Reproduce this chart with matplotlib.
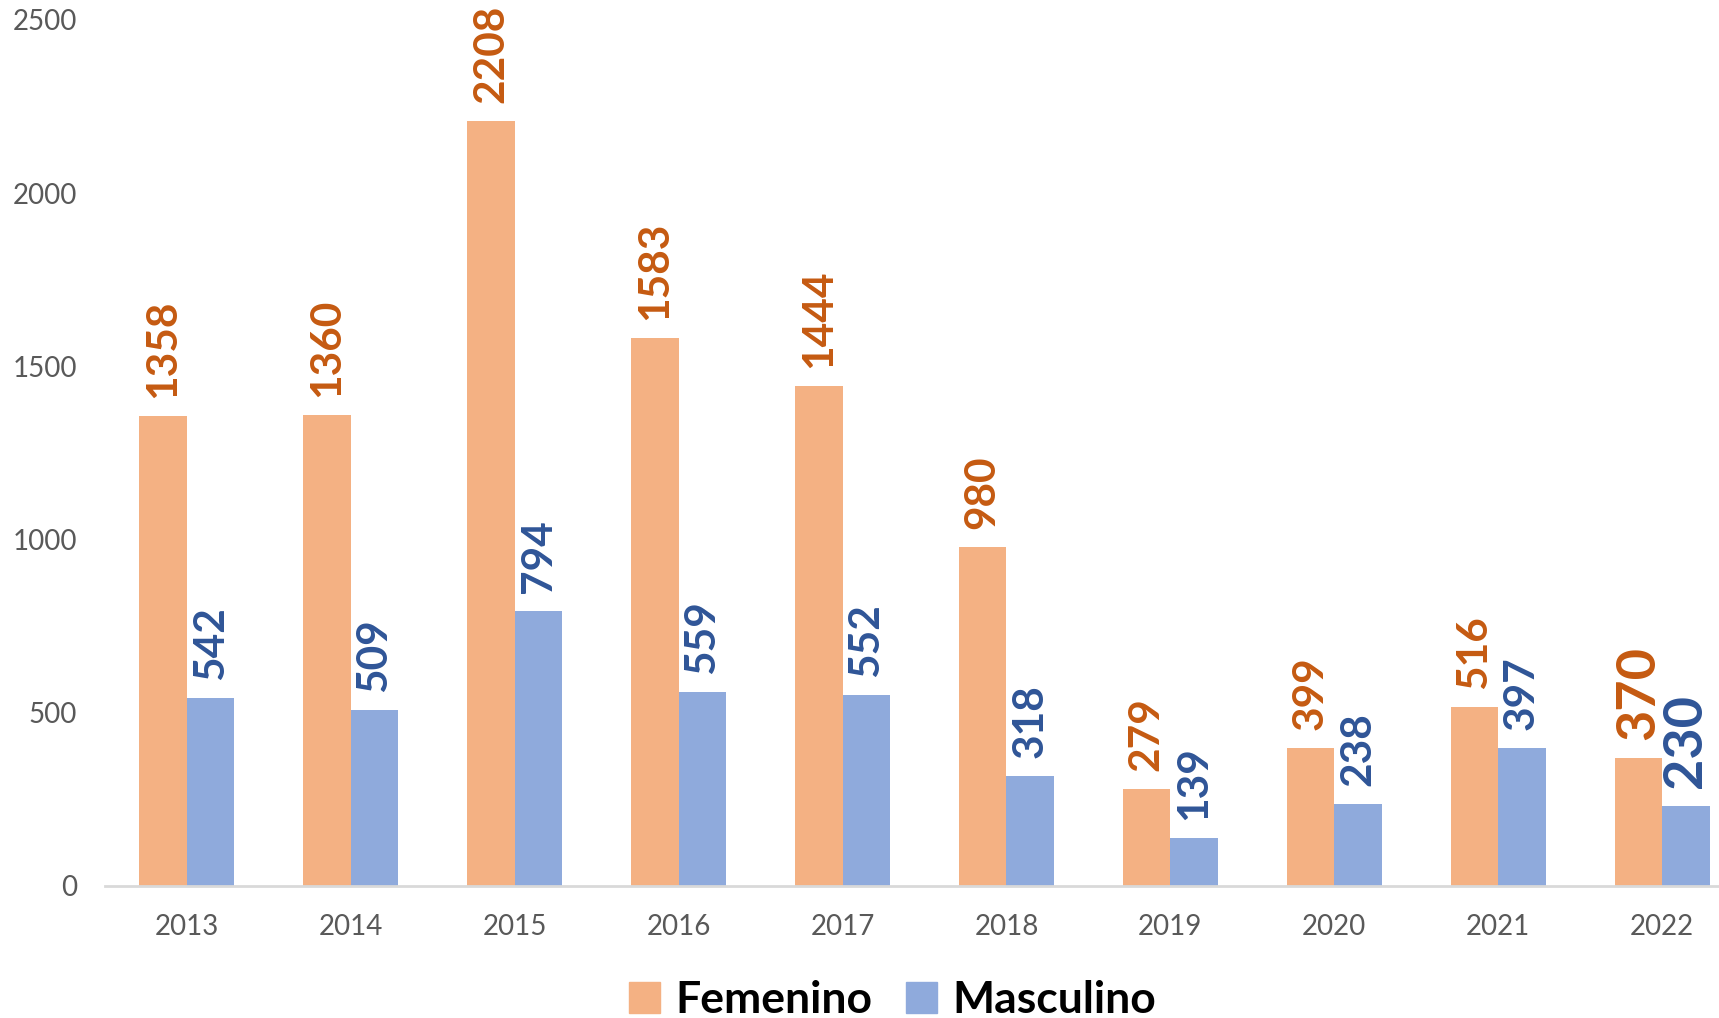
import numpy as np
import matplotlib as mpl
mpl.use('Agg')
import matplotlib.pyplot as plt
from matplotlib.patches import Patch

years = ['2013', '2014', '2015', '2016', '2017', '2018', '2019', '2020', '2021', '2022']
femenino = [1358, 1360, 2208, 1583, 1444, 980, 279, 399, 516, 370]
masculino = [542, 509, 794, 559, 552, 318, 139, 238, 397, 230]

c_fem = '#F4B183'
c_mas = '#8FAADC'
c_fem_txt = '#C55A11'
c_mas_txt = '#2F5597'

plt.rcParams['font.family'] = ['Lato', 'DejaVu Sans']

fig = plt.figure(figsize=(17.19, 10.18), dpi=100)
ax = fig.add_axes([105 / 1719, 132 / 1018, 1 - 105 / 1719, 1 - 132 / 1018])

x = np.arange(len(years))
w = 0.29
ax.bar(x - w / 2, femenino, w, color=c_fem)
ax.bar(x + w / 2, masculino, w, color=c_mas)

# data labels, last year drawn larger
for i in range(len(years)):
    fs = 39 if i == len(years) - 1 else 30.5
    ax.annotate(str(femenino[i]), (x[i] - w / 2, femenino[i]), xytext=(0, 18),
                textcoords='offset pixels', rotation=90, ha='center', va='bottom',
                fontsize=fs, fontweight='bold', color=c_fem_txt)
    ax.annotate(str(masculino[i]), (x[i] + w / 2, masculino[i]), xytext=(0, 18),
                textcoords='offset pixels', rotation=90, ha='center', va='bottom',
                fontsize=fs, fontweight='bold', color=c_mas_txt)

ax.set_xlim(-0.5, (1719 - 186) / 164)
ax.set_ylim(0, 2500 + 20 / (866 / 2500))
ax.set_xticks(x)
ax.set_xticklabels(years)
ax.set_yticks([0, 500, 1000, 1500, 2000, 2500])
ax.tick_params(axis='both', length=0, labelsize=20, colors='#595959')
ax.tick_params(axis='x', pad=20)
ax.tick_params(axis='y', pad=20)
for s in ['top', 'right', 'left']:
    ax.spines[s].set_visible(False)
ax.spines['bottom'].set_color('#D9D9D9')
ax.spines['bottom'].set_linewidth(2)
ax.patch.set_alpha(0)

handles = [Patch(color=c_fem, label='Femenino'), Patch(color=c_mas, label='Masculino')]
fig.legend(handles=handles, loc='center', bbox_to_anchor=(0.5 + 33 / 1719, 1 - 1000 / 1018),
           ncol=2, frameon=False, prop={'size': 32, 'weight': 'bold'},
           handlelength=0.7, handleheight=0.7, handletextpad=0.35, columnspacing=0.75)

fig.savefig('out.png', dpi=100)
